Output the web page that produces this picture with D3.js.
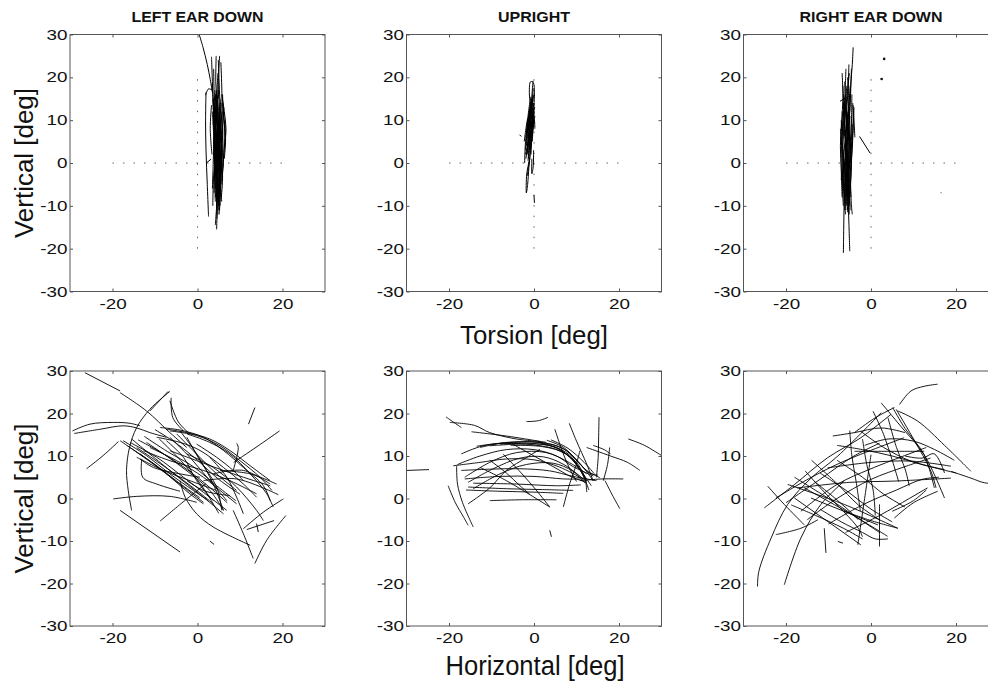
<!DOCTYPE html>
<html>
<head>
<meta charset="utf-8">
<script src="https://cdn.jsdelivr.net/npm/d3@7"></script>
<style>
  body { margin: 0; background: #fff; }
  svg { display: block; font-family: "Liberation Sans", Arial, Helvetica, sans-serif; }
</style>
</head>
<body>
<svg id="chart" width="988" height="688"></svg>
<script>
// column titles and axis ticks
const titles = ["LEFT EAR DOWN", "UPRIGHT", "RIGHT EAR DOWN"];
const xTickValues = [-20, 0, 20];
const yTickValues = [-30, -20, -10, 0, 10, 20, 30];
const crossRange = [-20, 20];

// eye position traces, each one a flat list x0,y0,x1,y1,... in degrees
// top row: torsion (x) vs vertical (y)
const ledTorsion = [
  [0.4,30, 1.3,27, 2.3,23, 3.0,19.5, 3.5,16.5],
  [2.0,16.5, 1.9,10, 2.0,3, 2.3,-5, 2.6,-12.5],
  [1.9,15.8, 2.6,17.3, 3.5,17.0],
  [2.2,0.1, 3.2,0.9],
  [3.3,24.8, 3.5,19, 3.7,13, 3.9,6, 4.0,-2, 4.2,-9],
  [3.8,22, 3.9,17, 4.2,11, 4.1,4, 4.3,-3, 4.5,-10.5],
  [4.4,25, 4.3,19, 4.6,13, 4.5,6, 4.3,-1, 4.5,-8],
  [5.2,25, 5.0,20, 5.3,14, 5.1,7, 4.8,0, 4.7,-7, 4.5,-15.5],
  [5.5,23.5, 5.7,18, 5.8,11, 5.5,4, 5.3,-3, 5.0,-11],
  [4.8,21, 4.6,15, 4.9,9, 4.7,2, 4.5,-5, 4.6,-13],
  [4.1,17, 4.4,12, 4.9,6, 5.2,0, 4.9,-6, 4.8,-12],
  [3.6,15, 3.9,10, 4.2,4, 4.0,-2, 3.9,-7],
  [4.3,16, 4.7,11, 5.4,6, 5.6,0, 5.3,-6],
  [5.9,16, 6.1,11, 6.5,7, 6.2,2, 5.8,-4],
  [6.0,14, 6.3,9, 6.2,3, 5.9,-2],
  [3.9,14, 4.6,9, 4.4,3, 3.8,-3, 3.6,-10],
  [4.5,14.5, 5.0,8, 5.2,2, 5.0,-4, 4.8,-9],
  [5.0,15.5, 5.3,9, 5.0,3, 4.6,-3, 4.2,-8],
  [5.6,14, 5.4,8, 5.7,2, 5.5,-5, 5.2,-9],
  [4.2,13, 4.8,7, 4.6,0, 4.2,-6],
  [5.3,13, 5.9,8, 5.6,1, 5.1,-5, 4.9,-10],
  [4.7,12.5, 4.2,7, 4.4,1, 4.9,-4],
  [4.0,11, 4.5,5, 5.0,0, 5.4,-5, 5.7,-9],
  [5.8,12, 5.2,6, 4.6,1, 4.1,-3],
  [3.7,9, 4.1,14, 4.6,17],
  [4.9,24, 5.0,19, 4.9,15],
  [3.4,18.5, 3.8,14, 4.3,9],
  [3.3,13.5, 3.0,8, 3.4,2],
  [6.4,10, 6.6,5, 6.3,1],
  [4.4,-2, 4.6,-8, 4.3,-13, 4.2,-14.5],
  [3.8,15, 4.3,8, 4.7,2, 5.1,-4, 5.3,-10],
  [5.5,15, 5.0,9, 4.5,3, 4.3,-3, 4.6,-9],
  [6.2,13, 5.8,7, 5.4,1, 5.6,-5],
  [4.6,16, 5.2,10, 5.8,4, 6.0,-1],
  [3.9,5, 4.4,0, 4.8,-6, 5.2,-11],
  [5.0,12, 4.6,6, 5.0,0, 5.4,-6, 5.1,-12],
  [4.4,14, 3.9,8, 4.3,2, 4.6,-4],
  [5.7,16, 6.3,12, 6.7,8, 6.4,4],
  [3.5,12, 3.8,6, 3.7,0, 3.5,-6],
  [4.9,17, 4.4,11, 3.9,5, 4.1,-1],
  [5.3,3, 5.9,-3, 5.6,-8],
  [4.1,9, 4.9,3, 5.5,-2]
];

const upTorsion = [
  [-0.8,13.5, -1.1,16.5, -0.8,19, -0.2,18.8, 0.1,16, -0.1,13],
  [-1.4,0.5, -1.1,5, -0.8,10, -0.4,14, -0.2,17.5],
  [-1.0,1, -1.7,-2.5, -1.8,-7, -1.5,-5, -1.2,-1, -0.8,3],
  [-0.5,1, -0.5,-2.5, -0.2,-1, -0.1,3],
  [-2.2,0, -2.0,5, -1.5,9, -1.0,12],
  [-1.6,2, -1.2,7, -0.6,12, -0.2,16],
  [-1.2,2.5, -0.7,7, -0.3,11, 0.1,14],
  [-1.8,4, -1.3,8, -0.9,12, -0.5,15],
  [-1.0,4, -0.6,8, -0.2,12, 0.2,13],
  [-1.5,3, -1.0,6, -0.5,9, -0.1,11.5],
  [-1.3,5, -0.9,9, -0.5,13, -0.1,12],
  [-1.7,6, -1.3,10, -0.8,14],
  [-0.8,3, -0.4,7, -0.1,10, 0.1,12],
  [-1.9,1, -1.5,4, -1.1,8, -0.6,11],
  [-1.1,0, -0.8,4, -0.4,8, 0.0,11],
  [-2.0,3, -1.6,7, -1.0,10, -0.6,13],
  [-0.9,10, -0.6,14, -0.4,17, -0.2,19.2],
  [-1.2,9, -0.8,12, -0.5,14],
  [-1.4,11, -1.0,14, -0.7,15.5],
  [-3.4,6.6, -3.0,6.2],
  [0.0,-7.5, 0.1,-9.3],
  [-1.6,-3, -1.3,-1, -1.0,1],
  [-0.4,5, -0.2,8, 0.1,10, 0.2,8],
  [-2.3,5, -1.9,8, -1.4,11],
  [-1.3,1, -0.9,6, -0.5,10, -0.1,14],
  [-1.7,2, -1.2,6, -0.7,10, -0.3,13],
  [-0.7,2, -0.5,6, -0.1,9, 0.2,11],
  [-1.5,7, -1.0,11, -0.6,14],
  [-2.0,2, -1.4,5, -0.9,9],
  [-1.1,3, -0.6,7, -0.2,10],
  [-0.8,6, -0.3,10, 0.1,13],
  [-1.6,9, -1.1,12, -0.6,15],
  [-1.9,6, -1.5,10],
  [-0.6,12, -0.2,15, 0.1,16]
];

const redTorsion = [
  [-4.2,27, -4.4,23, -4.8,18, -5.0,12],
  [-6.5,-21, -6.4,-14, -6.3,-8, -6.1,-2],
  [-5.0,-20.6, -5.2,-14, -5.4,-8, -5.6,-2],
  [-2.7,6.2, -0.2,2.3],
  [-7.3,14.4, -6.1,15.2],
  [-6.8,21, -6.6,15, -6.9,10, -7.2,4, -7.0,-2, -6.8,-8],
  [-5.9,22, -6.1,16, -6.3,10, -6.6,4, -6.4,-3, -6.2,-9, -6.0,-12],
  [-5.2,23, -5.4,17, -5.8,11, -6.0,5, -5.8,-2, -5.6,-8, -5.5,-11.5],
  [-4.6,22, -4.8,16, -5.1,10, -5.4,3, -5.2,-4, -5.0,-10],
  [-4.3,14, -4.2,8, -4.5,2, -4.8,-4, -4.6,-10, -4.4,-12],
  [-6.2,19, -5.9,13, -5.6,7, -5.8,1, -6.1,-5, -5.9,-11],
  [-7.0,10, -6.8,5, -6.5,0, -6.7,-6, -6.5,-10],
  [-5.5,20, -5.2,14, -5.0,8, -5.3,2, -5.6,-4, -5.8,-10],
  [-6.6,18, -6.4,12, -6.0,6, -5.5,0, -5.2,-6],
  [-4.9,18, -5.3,12, -5.7,6, -6.2,0, -6.5,-6],
  [-4.0,13, -4.3,7, -4.9,1, -5.3,-5, -5.1,-12],
  [-6.0,16, -6.6,10, -6.8,4, -6.2,-2, -5.7,-8],
  [-5.6,12, -5.0,6, -4.6,0, -4.9,-6, -5.4,-11],
  [-6.4,8, -5.8,3, -5.4,-3, -5.6,-9],
  [-5.1,21, -5.8,14, -6.3,8],
  [-4.7,11, -4.4,5, -4.8,-1, -5.3,-7],
  [-6.1,14, -5.4,9, -5.1,3, -5.5,-3],
  [-5.8,6, -5.3,5.5, -4.5,6],
  [-3.8,6, -4.0,10, -4.2,13.5],
  [-7.2,8, -6.8,2, -7.0,-4],
  [-6.3,14, -6.7,8, -6.9,2, -6.6,-4, -6.3,-9],
  [-5.0,16, -5.6,10, -6.1,4, -5.9,-2, -5.4,-8],
  [-4.5,16, -4.6,10, -4.9,4, -5.0,-2, -4.7,-8],
  [-6.8,12, -6.2,7, -5.6,2, -5.3,-4, -5.5,-10],
  [-5.4,11, -6.0,6, -6.5,1, -6.8,-5],
  [-4.4,9, -4.8,3, -5.4,-3, -6.0,-8],
  [-7.1,6, -6.4,1, -6.0,-4, -6.2,-11],
  [-5.7,18, -5.9,12, -5.2,6, -4.8,0],
  [-6.5,16, -5.8,10, -5.5,4, -5.8,-3],
  [-5.2,13, -5.5,7, -5.8,1, -5.2,-5, -4.9,-11]
];
const redDots = [[3.1, 24.3], [2.5, 19.6]];
const redFaintDots = [[16.5, -6.9]];

// bottom row: horizontal (x) vs vertical (y)
const ledHorizontal = [
  [-26.5,29.6, -18.2,25.3],
  [-18.2,24.9, -12,20.6, -6.5,15.5, -2.5,12],
  [-29.4,15.9, -25.3,17.5, -19.8,17.9, -15.9,17.7, -13.5,17.1],
  [-29,15.3, -22.9,16.3, -17.5,17.1, -14.3,16.6, -11.2,15.5, -7.3,14.4],
  [-26.1,7, -22.2,10.1, -18.6,13.4],
  [-6.5,25.2, -11.2,21, -14.3,16.7, -16,12, -16.7,6.6, -16.3,1.9, -15.5,-2.8],
  [-11.2,20.6, -6.9,25.2],
  [-19.8,-0.1, -14.3,0.5, -6.5,0.5, -0.2,-0.9],
  [-18.2,-2.8, -4.1,-12.6],
  [-8.8,-5.3, -3,-0.5, 2,3.5],
  [8.5,8.5, 14,12.2, 19.3,15.9],
  [12,17.5, 13.5,21.4],
  [-6.2,23.7, -5.8,19, -3.3,15.9],
  [-6.5,23, -4.5,18, -1.8,15.2],
  [-13.1,9.3, -12.9,5, -9.6,3.4, -4.1,1.7],
  [-4.1,4.2, -2.9,0.3, -0.2,-3.6, 3.7,-6.7, 12.4,-11],
  [2.9,-10, 3.9,-10.8],
  [8.4,-2.8, 10.8,-8.3, 13.1,-14.1],
  [13.5,-15.3, 16.3,-9.8, 20.8,-4],
  [10.8,-7.1, 15.5,-3.2, 20.2,-0.1],
  [11.6,-7.3, 18,-5.2],
  [13.9,-5.9, 14.3,-7.9],
  [-7.3,16.3, -2.5,15.5, 2.9,14, 7.6,11.3, 12.4,7.7, 17.1,4.2],
  [-6.5,15.9, -0.2,14.8, 5.3,12.4, 10,8.9, 14.7,5, 17.5,1.9],
  [-8.8,16.7, -4.1,16.1, 1.4,14.4, 6.1,11.3, 10.8,7.3, 15.5,3, 17.1,-0.5],
  [-2.5,15.2, 2.9,13.2, 7.6,10.5, 12.4,5.8, 16.3,1.1, 17.8,-2],
  [-9.6,14.4, -4.1,13.2, 0.6,11.3, 6.1,7.3, 10.8,3.4, 13.9,0.3],
  [-15.5,14, -6.5,6.6, 1.4,0.3, 6.1,-3.6],
  [-18.2,13.6, -10.4,8.1, -3.3,2.7, 1.4,-0.9],
  [-14.3,12, -6.5,6.6, -0.2,1.9, 3.7,-1.25],
  [-12,13.2, -4.1,7.7, 2.9,1.9, 6.1,-2.8],
  [-13.5,10.5, -7.3,5.8, -1.8,1.1, 1.4,-1.25],
  [-15.9,13.2, -9.6,9.7, -3.3,5, 2.9,0.3, 6.9,-2.8],
  [-11.2,12, -4.9,8.9, 1.4,5, 5.3,1.9, 9.2,-1.25],
  [-7.3,13.6, -3.3,9.7, -0.2,4.2, 3.7,-0.5],
  [-6.5,14.4, -1.8,9.7, 2.9,4.2, 6.9,-0.5],
  [-4.9,15.2, -1,11.25, 4.5,5.8, 9.2,1.9],
  [-4.1,15.9, -0.2,10.5, 3.7,3.4, 6.1,-2.8],
  [-2.5,14.4, 0.6,8.9, 4.5,2.7, 5.7,-2.8],
  [-12.7,11.25, -6.5,8.9, 1.4,6.6, 7.6,4.2, 13.9,1.1],
  [-14.3,9.7, -8,6.6, -1.8,4.2, 4.5,1.9],
  [-13.5,9.3, -10.4,7.3, -4.1,5.8, 0.6,5],
  [-6.5,11.25, -0.2,8.9, 6.1,6.6, 10.8,5, 17.1,3],
  [1.4,4.2, 9.2,4.6, 19,0.9],
  [3.7,5.8, 10.8,6.6, 17.1,3.4],
  [-2.5,10.5, 3.7,7.3, 9.2,2.7, 13.9,-2.8, 15.5,-5.2],
  [2.9,9.7, 6.9,5, 9.2,0.3, 10.8,-3.6],
  [-0.2,12.8, 4.5,9.7, 8.4,6.6, 10.8,4.2],
  [5.3,6.6, 12.4,5.8, 18.6,3.4],
  [-2.5,4.2, 1.4,1.9, 4.5,1.1, 7.6,0.7],
  [-17.5,13.6, -12,10.1, -6.5,5.8, -1,1.9, 2.5,-0.5],
  [-16.5,12.4, -10,8, -4.5,3.8, 0.5,0.2],
  [-14,13.8, -8,10.5, -2,6.5, 3,2.5, 7,-1],
  [-12.5,14.6, -7,11, -1,7.5, 4.5,3, 9,-0.5],
  [-10,16.2, -5,13, 0,9, 5,4.5, 10,1],
  [-9,14, -4,9, 1,3, 5,-3.5],
  [8.4,6.6, 9.6,12, 9.2,13]
];

const upHorizontal = [
  [-20.7,19.2, -19,18, -17.1,16.7],
  [-19.8,17.9, -14,17.2, -10.4,15.5, -4.1,14, 1.4,13.4],
  [-14.7,15.7, -6.5,14.7, 2.9,13.2],
  [-1.8,18.1, 1,18.3, 3.3,19.1],
  [-30,6.6, -24.7,6.8],
  [22.2,14, 26,12.5, 30,10.1],
  [-17.1,10.5, -12,12.4, -4.9,13.2, 2.9,13, 7.6,11.3, 11.6,7.3, 13.9,4.2],
  [-12.7,12, -6.5,13.2, 1.4,13.2, 6.9,11.7, 12.4,6.6, 15.5,4.9],
  [-13.5,12.3, -7.3,13, 0,12.6, 5.3,11.5, 10,8.5, 12.4,4],
  [-10.4,12.4, -3.3,12.8, 3.7,12.5, 8.4,10.2, 11.6,5.3, 12.9,2],
  [-8,12.8, -1,13, 5,12, 9.2,9, 12,4.5, 12.4,1.5],
  [-5.5,12.5, 2,12.2, 7.6,10.5, 11,6.5, 13.5,3],
  [-18,8, -12.7,10, -6.5,11.5, 0,11.5, 5.3,10, 9.2,7.5, 14,5.3],
  [-16.3,5, -10.4,8.5, -4.1,10.8, 2.9,10.8, 8.4,8.4, 12.4,5.8],
  [-15.5,3.8, -9.6,7, -3.3,9.5, 2.2,9.8, 7,8, 11.6,4.6],
  [-14.3,2.3, -8,5.8, -1.8,8, 4.5,8.3, 9.2,6.4, 12,3.6],
  [-19,7.7, -12.7,8.5, -6.5,9.3, 0,9.1, 6,7.4, 10.8,5],
  [-17.1,6.6, -10.4,6.9, -3.3,7, 3.7,6.5, 9.2,5.2, 14.7,4.2],
  [-16.3,4.6, -8,5.2, 0,5.2, 7,4.6, 12,4.6],
  [-15.5,2.7, -6.5,2.3, 2,2.1, 9.2,1.9],
  [-14.3,3.6, -4.1,3.4, 5.3,3, 11,3.2],
  [-10.4,-0.5, -3,-0.3, 5.3,-0.3],
  [-16,2, -8,1.7, 0,1.5, 6.9,1.2],
  [-20.2,3, -18.5,-1, -16.5,-4.5, -15.5,-6.3],
  [-18.2,7.7, -18,3.4, -16.8,-1, -14.3,-6.7],
  [-15.5,-1.25, -10.4,2.5, -6.5,6.6, -1.8,9.6, 1.4,11.6],
  [-7.3,10.5, -3,6, 0.5,2, 3.7,-2],
  [-12.7,7.3, -6.5,4.2, 3.7,-2],
  [-10.4,9, -6.5,6, -3.3,3, -1,1],
  [4.9,16.3, 6,13, 6.9,10.5, 8.4,7, 10,4],
  [8.3,17.7, 10,13.5, 12.4,8.1, 13.9,4.2],
  [15.3,19.1, 15.2,14, 15.1,9.7, 14.7,5],
  [17.8,12, 17.3,8, 16.3,4.2],
  [16.7,4.2, 18.6,0.5, 20.2,-2.4],
  [12.4,12, 18,10, 22,8.5, 24.9,6.6],
  [13.9,12.5, 16.5,11.5, 18,10.5],
  [10.8,4.2, 16,4.6, 21,4.6],
  [10.8,11.25, 9.8,7.5, 8.4,3.5, 6.9,-2],
  [3.7,-7.5, 4.1,-9],
  [-5,12.8, 0,10, 4.5,7.5, 9,5, 12.4,3.8],
  [3,13.7, 7,12, 10.5,8.5, 13,6, 15,5.5],
  [1,13.2, 6,11.6, 10,8, 12,5],
  [4,13.8, 8,11.8, 11.8,8.5, 14.2,5.8]
];

const redHorizontal = [
  [6.7,22.1, 9.4,25.3, 12.5,26.4, 15.7,26.9],
  [-26.7,-20.7, -26.4,-17.2, -23.5,-9.3, -19.6,-1.4, -14.1,4.8, -7.8,10, 2.4,20.2],
  [-20.4,-20.3, -16.5,-9.3, -11.8,-1.4, -6.3,4.1],
  [-25.1,-2.2, -18,3.3, -10.2,9.6, -2.4,14.3, 4.7,19.8],
  [-24.3,2.9, -20.4,-1.4, -15.7,-6.2],
  [-3.9,15.5, 1,19, 5.5,21.4],
  [-9,14.7, -3.9,15.5, 2.4,16.6, 8,15.5],
  [2.4,22.5, 7,17, 12.5,10.3, 17.3,0.1],
  [5.1,21.4, 8,16.5, 12.5,10.3, 14.9,2.5],
  [5.9,21, 10,14, 14.1,6.4, 15.3,2.5],
  [6.3,20.6, 11,18.2, 17.3,12.5, 23.5,6.4],
  [18.8,6.4, 23.5,4.8, 26.7,3.7, 30,3.5],
  [-19.6,3.3, -6.3,-1.4, 6.3,-7],
  [-18,0.1, -2.4,-10.9],
  [-15.7,2.5, -3.1,-4.6, 3.9,-8.9],
  [-14.1,0.1, 1.6,-6.2],
  [-22.4,-8.5, -16.5,-7, -12.5,-5],
  [-11,-7, -10.6,-12.8],
  [2,-1.4, 2,-6, 2,-11.3],
  [0,10.3, -1.5,0, -3.1,-10.9],
  [-7.8,-10.1, -6.6,-10.5],
  [5.5,-4.6, 10,-1, 15.7,1.7],
  [-17.3,2.5, -5,3.8, 5.5,4.1, 18.8,4.8],
  [-10.2,7.2, 0,8.5, 9.4,8.8, 18.8,7.6],
  [-3.9,11.1, 5,11.1, 12.5,11.1],
  [-6.3,-3, 0,-5.2, 6.3,-7],
  [-22.4,0.1, -14,5, -6.3,8.8, 7.8,14.3],
  [-16.5,-3, -8,3.3, 0,7, 13,12],
  [-2.4,15.8, 3,12, 9.4,8.8, 17.3,6.8],
  [-8,12.5, -2,11.5, 5,10, 12,8, 20,6],
  [-14,9, -8,3.5, -3,-1.5, 2,-5],
  [-18,5, -10,0, -4,-4, 2,-8],
  [-12,6, -6,2, 0,-2.5, 5,-5.5],
  [-8,9, -2,5, 3,1, 8,-2],
  [-13.3,4, -9,0.5, -5,-3, -3,-5],
  [-15.5,6.5, -11,1.5, -7,-2.5, -3,-7, -2,-9],
  [-12,-2.5, -7,-5.5, -2,-8, 1,-9.5, 4,-9.5],
  [-18.8,-1.5, -13,-4, -6.5,-7, -2,-9.5],
  [4,19, 6,12, 8,7, 9,3],
  [0.5,20.5, 3,15, 5,9, 6.5,4],
  [-2,14, -1,8, 0.5,2, 1,-4],
  [-5,16, -4.5,10, -3.5,4, -2.5,-3],
  [-20,-1, -12,4.5, -4,10, 2,13],
  [-15,-5, -8,0, 0,4.5, 8,7.5, 14,9.5],
  [-10,-6, -2,-1.5, 6,2, 12,4.5, 16,5],
  [-6,-8, 2,-4, 9,0, 13.3,2.5],
  [5,-3, 10,-0.5, 13,2],
  [-1.5,12.5, 4,14, 10,13.5, 15,11.5, 19.6,9],
  [8,10, 12,9.5, 14.9,10.5, 17.3,6]
];

// layout of the 2x3 grid (pixels)
const panelLeft = [70, 406.5, 743.5];
const rowTop = [34.5, 371];
const panelW = 255;
const panelH = [257, 255];

const panels = [
  { row: 0, col: 0, traces: ledTorsion, cross: true },
  { row: 0, col: 1, traces: upTorsion, cross: true },
  { row: 0, col: 2, traces: redTorsion, cross: true, dots: redDots, faint: redFaintDots },
  { row: 1, col: 0, traces: ledHorizontal },
  { row: 1, col: 1, traces: upHorizontal },
  { row: 1, col: 2, traces: redHorizontal }
];

const svg = d3.select("#chart");
svg.append("rect").attr("width", 988).attr("height", 688).attr("fill", "#fff");

const toPoints = flat => d3.range(0, flat.length, 2).map(i => [flat[i], flat[i + 1]]);

function styleAxis(g, labels) {
  g.select(".domain").remove();
  g.selectAll(".tick line").attr("stroke", "#555");
  g.attr("font-size", 14.5).attr("font-family", null);
  if (labels) g.selectAll(".tick text").attr("fill", "#111").attr("transform", "scale(1.3,1)");
}

panels.forEach((p, i) => {
  const left = panelLeft[p.col], top = rowTop[p.row], h = panelH[p.row];
  const x = d3.scaleLinear().domain([-30, 30]).range([left, left + panelW]);
  const y = d3.scaleLinear().domain([-30, 30]).range([top + h, top]);

  const clipId = "clip" + i;
  svg.append("clipPath").attr("id", clipId)
    .append("rect").attr("x", left).attr("y", top).attr("width", panelW).attr("height", h);

  const g = svg.append("g").attr("clip-path", `url(#${clipId})`);

  if (p.cross) {
    g.append("line")
      .attr("x1", x(crossRange[0])).attr("x2", x(crossRange[1]))
      .attr("y1", y(0)).attr("y2", y(0))
      .attr("stroke", "#666").attr("stroke-width", 1).attr("stroke-dasharray", "1.5,9");
    g.append("line")
      .attr("x1", x(0)).attr("x2", x(0))
      .attr("y1", y(crossRange[0])).attr("y2", y(crossRange[1]))
      .attr("stroke", "#666").attr("stroke-width", 1).attr("stroke-dasharray", "1.5,9");
  }

  const line = d3.line().x(d => x(d[0])).y(d => y(d[1])).curve(d3.curveCatmullRom);
  g.selectAll("path.trace")
    .data(p.traces.map(toPoints))
    .join("path")
    .attr("class", "trace")
    .attr("d", line)
    .attr("fill", "none")
    .attr("stroke", "#000")
    .attr("stroke-width", p.row === 0 ? 1.0 : 0.9);

  if (p.dots) {
    g.selectAll("circle.dot").data(p.dots).join("circle")
      .attr("class", "dot").attr("cx", d => x(d[0])).attr("cy", d => y(d[1]))
      .attr("r", 1.3).attr("fill", "#111");
  }
  if (p.faint) {
    g.selectAll("circle.faint").data(p.faint).join("circle")
      .attr("class", "faint").attr("cx", d => x(d[0])).attr("cy", d => y(d[1]))
      .attr("r", 0.9).attr("fill", "#aaa");
  }

  // frame
  svg.append("rect")
    .attr("x", left).attr("y", top).attr("width", panelW).attr("height", h)
    .attr("fill", "none").attr("stroke", "#555").attr("stroke-width", 1);

  const fmt = d => String(d);
  svg.append("g").attr("transform", `translate(${left},0)`)
    .call(d3.axisLeft(y).tickValues(yTickValues).tickSizeInner(-3).tickSizeOuter(0).tickPadding(2).tickFormat(fmt))
    .call(g => styleAxis(g, true));
  svg.append("g").attr("transform", `translate(0,${top + h})`)
    .call(d3.axisBottom(x).tickValues(xTickValues).tickSizeInner(-3).tickSizeOuter(0).tickPadding(7).tickFormat(fmt))
    .call(g => styleAxis(g, true));
  svg.append("g").attr("transform", `translate(${left + panelW},0)`)
    .call(d3.axisRight(y).tickValues(yTickValues).tickSizeInner(-3).tickSizeOuter(0).tickFormat(""))
    .call(g => styleAxis(g, false));
  svg.append("g").attr("transform", `translate(0,${top})`)
    .call(d3.axisTop(x).tickValues(xTickValues).tickSizeInner(-3).tickSizeOuter(0).tickFormat(""))
    .call(g => styleAxis(g, false));
});

// column titles
const titleWidths = [132, 72, 143];
titles.forEach((t, c) => {
  svg.append("text")
    .attr("x", panelLeft[c] + panelW / 2).attr("y", 21.5)
    .attr("text-anchor", "middle")
    .attr("font-size", 14).attr("font-weight", "bold")
    .attr("textLength", titleWidths[c]).attr("lengthAdjust", "spacingAndGlyphs")
    .attr("fill", "#111")
    .text(t);
});

// axis labels
rowTop.forEach((top, r) => {
  svg.append("text")
    .attr("transform", `translate(33,${top + panelH[r] / 2}) rotate(-90)`)
    .attr("text-anchor", "middle")
    .attr("font-size", 26)
    .attr("textLength", 150).attr("lengthAdjust", "spacingAndGlyphs")
    .attr("fill", "#111")
    .text("Vertical [deg]");
});
svg.append("text")
  .attr("x", panelLeft[1] + panelW / 2).attr("y", 344)
  .attr("text-anchor", "middle").attr("font-size", 26)
  .attr("textLength", 148).attr("lengthAdjust", "spacingAndGlyphs")
  .attr("fill", "#111")
  .text("Torsion [deg]");
svg.append("text")
  .attr("x", panelLeft[1] + panelW / 2 + 1).attr("y", 675)
  .attr("text-anchor", "middle").attr("font-size", 27)
  .attr("textLength", 179).attr("lengthAdjust", "spacingAndGlyphs")
  .attr("fill", "#111")
  .text("Horizontal [deg]");
</script>
</body>
</html>
